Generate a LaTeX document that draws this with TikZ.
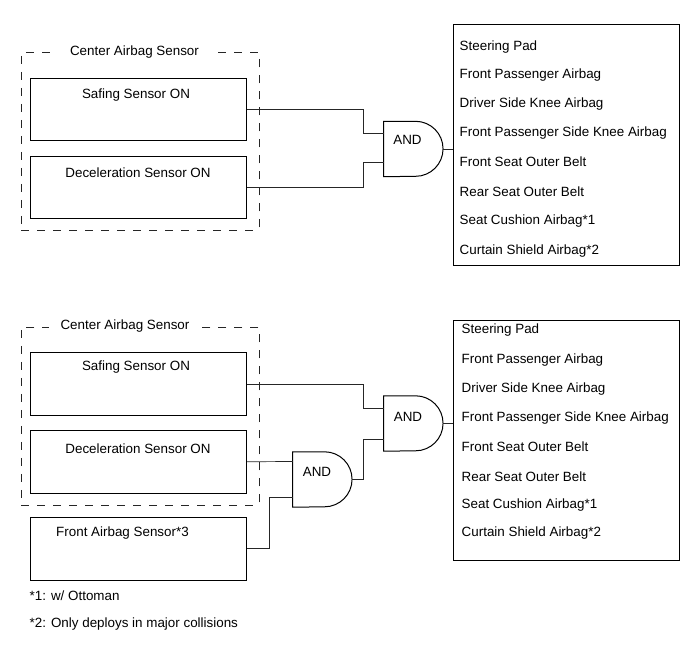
\documentclass[tikz,border=0pt]{standalone}
\usepackage{fontspec}
\setmainfont{Liberation Sans}
\tikzset{
  x=1pt,y=-1pt,
  ln/.style={line width=0.7pt,draw=black!85},
  box/.style={draw=black,line width=1pt,rectangle,inner sep=0pt,anchor=north west},
  dbox/.style={draw=black!85,line width=0.7pt,dash pattern=on 8pt off 8pt,rectangle,inner sep=0pt,anchor=north west},
  lbl/.style={font=\fontsize{13.4}{15}\selectfont,inner sep=0pt,text=black,yshift=-1pt},
  ll/.style={lbl,anchor=west},
  gatebox/.style={rectangle,inner sep=0pt,minimum width=59.5pt,minimum height=55pt},
  gateline/.style={draw=black,line width=1pt},
  title/.style={lbl,fill=white,inner xsep=12pt,inner ysep=2pt},
}
\newcommand{\gateshape}[1]{\draw[gateline] (#1.north west) -- ++(32,0) arc[start angle=90,end angle=-90,radius=27.5pt] -- (#1.south west) -- cycle;}
\begin{document}
\begin{tikzpicture}
\useasboundingbox (0.5,0.5) rectangle (689.5,659.5);
% top
\node[dbox,minimum width=237.5pt,minimum height=177.5pt] (d1) at (21.5,52.5) {};
\node[title] (t1) at (135,52) {Center Airbag Sensor};
\node[box,minimum width=216pt,minimum height=62pt] (a1) at (30.5,78.5) {};
\node[lbl] (a1l) at (136.5,95) {Safing Sensor ON};
\node[box,minimum width=216pt,minimum height=62.5pt] (b1) at (30.5,156) {};
\node[lbl] (b1l) at (138.5,172) {Deceleration Sensor ON};
\node[gatebox] (g1) at (414,149.5) {};
\gateshape{g1}
\node[lbl] (g1l) at (408,139.5) {AND};
\node[box,minimum width=225.5pt,minimum height=241pt] (r1) at (453.5,24) {};
\coordinate (g1a) at (384.25,134.3);
\coordinate (g1b) at (384.25,162.6);
\coordinate (j1a) at (364,134.3);
\coordinate (j1b) at (364,162.6);
\draw[ln] (a1.east) -| (j1a) -- (g1a);
\draw[ln] (b1.east) -| (j1b) -- (g1b);
\draw[ln] (g1.east) -- (g1.east -| r1.west);
\foreach \t/\y in {Steering Pad/46.5,Front Passenger Airbag/75,Driver Side Knee Airbag/103.5,Front Passenger Side Knee Airbag/132.5,Front Seat Outer Belt/161,Rear Seat Outer Belt/191,Seat Cushion Airbag*1/221,Curtain Shield Airbag*2/251}
  \node[ll] at (460,\y) {\t};
% bottom
\node[dbox,minimum width=237.5pt,minimum height=178pt] (d2) at (21.5,327) {};
\node[title] (t2) at (125.5,325.5) {Center Airbag Sensor};
\node[box,minimum width=216pt,minimum height=63pt] (a2) at (30.5,352.5) {};
\node[lbl] (a2l) at (136.5,366.5) {Safing Sensor ON};
\node[box,minimum width=216pt,minimum height=62.5pt] (b2) at (30.5,430.5) {};
\node[lbl] (b2l) at (138.5,448.5) {Deceleration Sensor ON};
\node[box,minimum width=216pt,minimum height=62.5pt] (c2) at (30.5,517.5) {};
\node[lbl] (c2l) at (123,533) {Front Airbag Sensor*3};
\node[gatebox] (g2) at (414,424) {};
\gateshape{g2}
\node[lbl] (g2l) at (408.5,416.5) {AND};
\node[gatebox] (g3) at (323,480) {};
\gateshape{g3}
\node[lbl] (g3l) at (317.5,471) {AND};
\node[box,minimum width=225.5pt,minimum height=240pt] (r2) at (453.5,320) {};
\coordinate (g2a) at (384.25,409.3);
\coordinate (g2b) at (384.25,440);
\coordinate (j2a) at (364,409.3);
\coordinate (j2b) at (364,440);
\coordinate (g3a) at (293.25,462);
\coordinate (g3b) at (293.25,498.3);
\coordinate (j3) at (270,498.3);
\draw[ln] (a2.east) -| (j2a) -- (g2a);
\draw[ln] (g3.east) -| (j2b) -- (g2b);
\draw[ln] (g2.east) -- (g2.east -| r2.west);
\draw[ln] (b2.east) -- (g3a);
\draw[ln] (c2.east) -| (j3) -- (g3b);
\foreach \t/\y in {Steering Pad/330,Front Passenger Airbag/359.5,Driver Side Knee Airbag/388.5,Front Passenger Side Knee Airbag/417.5,Front Seat Outer Belt/446,Rear Seat Outer Belt/476,Seat Cushion Airbag*1/505,Curtain Shield Airbag*2/532.5}
  \node[ll] at (462,\y) {\t};
\node[ll] (n1) at (30,595.5) {*1: w/ Ottoman};
\node[ll] (n2) at (30,623.5) {*2: Only deploys in major collisions};
\end{tikzpicture}
\end{document}
